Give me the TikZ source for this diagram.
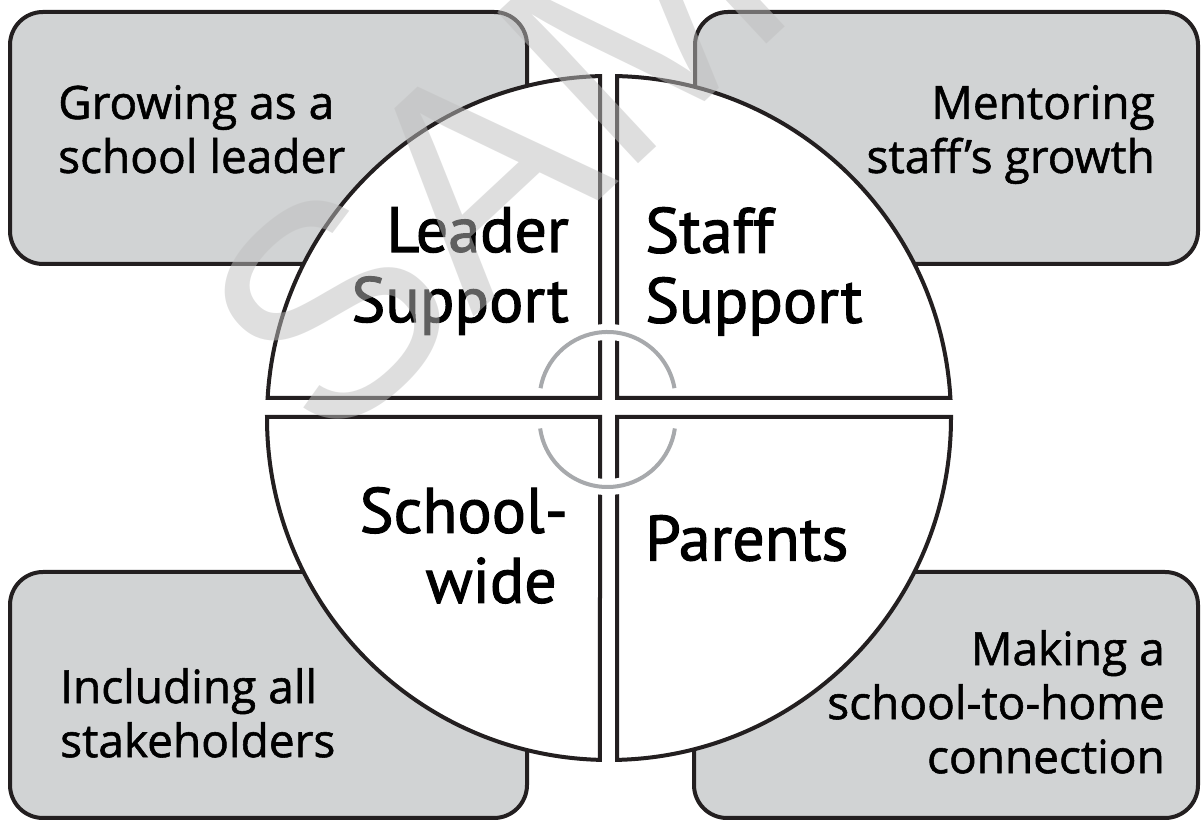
\documentclass[tikz,border=0pt]{standalone}
\usepackage{fontspec}
\setmainfont{Open Sans}[FakeBold=1.2]
\newfontfamily\boxfont{Open Sans}[FakeBold=1.2]
\newfontfamily\labelfont{PT Sans}[FakeBold=1.6]
\newfontfamily\markfont{Liberation Sans}
\usetikzlibrary{positioning}
\definecolor{boxgray}{HTML}{D1D3D4}
\definecolor{ink}{HTML}{231F20}
\definecolor{ringgray}{HTML}{A7A9AC}
\tikzset{
  corner/.style={draw=ink, fill=boxgray, line width=4pt, rounded corners=33pt},
  piece/.style={draw=ink, fill=white, line width=4pt, line join=miter},
  boxtext/.style={inner sep=0pt, font=\boxfont\fontsize{46}{54}\selectfont},
  bigtext/.style={inner sep=0pt, font=\labelfont\fontsize{64}{70}\selectfont},
  ring/.style={draw=ringgray, line width=4pt},
  ringhalo/.style={draw=white, line width=16pt},
}

\begin{document}
\begin{tikzpicture}[x=1pt,y=1pt]
\useasboundingbox (0,0) rectangle (1201,821);
%corner boxes
	\draw[corner] (10,557) rectangle (527,809);
	\draw[corner] (695,557) rectangle (1198,809);
	\draw[corner] (10,3) rectangle (527,249);
	\draw[corner] (694,3) rectangle (1198,249);
%the four pieces of the disc
	\coordinate (hub) at (609,403);
	\draw[piece] (600,423) -- (600,744.9) arc[start angle=91.51, end angle=176.65, radius=342] -- cycle;
	\draw[piece] (617,423) -- (950.4,423) arc[start angle=3.35, end angle=88.66, radius=342] -- cycle;
	\draw[piece] (600,404) -- (267,404) arc[start angle=179.83, end angle=268.49, radius=342] -- cycle;
	\draw[piece] (617,404) -- (617,61.1) arc[start angle=-88.66, end angle=0.17, radius=342] -- cycle;
%broken ring in the middle
	\coordinate (ringup) at (607.5,421);
	\coordinate (ringdown) at (607.5,402);
	\draw[ringhalo] ([shift={(10:68)}]ringup) arc[start angle=10, end angle=170, radius=68];
	\draw[ringhalo] ([shift={(188:68)}]ringdown) arc[start angle=188, end angle=352, radius=68];
	\draw[ring] ([shift={(10:68)}]ringup) arc[start angle=10, end angle=170, radius=68];
	\draw[ring] ([shift={(188:68)}]ringdown) arc[start angle=188, end angle=352, radius=68];
%texts
	\node[boxtext, anchor=north west, align=left] (grow) at (58,736) {Growing as a\\school leader};
	\node[boxtext, anchor=north east, align=right] (mentor) at (1155,736) {Mentoring\\staff’s growth};
	\node[boxtext, anchor=north west, align=left] (include) at (60,153) {Including all\\stakeholders};
	\node[boxtext, anchor=north east, align=right] (making) at (1165,191) {Making a\\school-to-home\\connection};
	\node[bigtext, anchor=north east, align=right] (leader) at (569,614) {Leader\\Support};
	\node[bigtext, anchor=north west, align=left] (staff) at (645,614) {Staff\\Support};
	\node[bigtext, anchor=north east, align=right] (school) at (568,334) {School-\\wide\kern11pt};
	\node[bigtext, anchor=north west] (parents) at (645,306) {Parents};
%watermark
\begin{scope}
	\clip (0,0) rectangle (1201,821);
	\node[font=\markfont\fontsize{300}{300}\selectfont, text=gray!50, opacity=0.5, rotate=43] (mark) at (702,858) {SAMPLE};
\end{scope}
\end{tikzpicture}
\end{document}
